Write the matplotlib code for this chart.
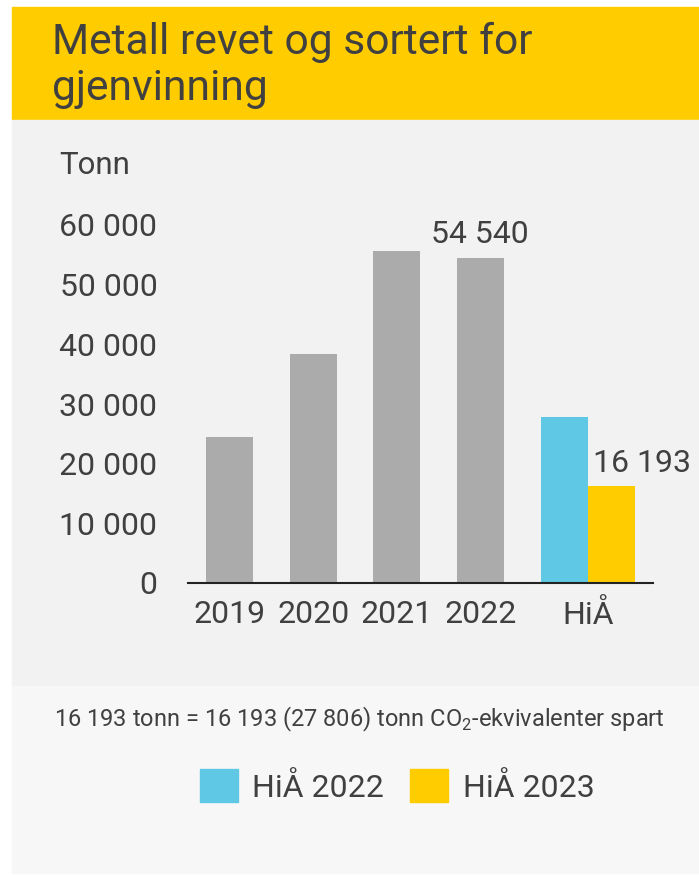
import matplotlib.pyplot as plt
from matplotlib.patches import Rectangle, Patch

plt.rcParams['font.family'] = ['Roboto', 'DejaVu Sans']
plt.rcParams['mathtext.fontset'] = 'custom'
plt.rcParams['mathtext.rm'] = 'Roboto'

# Data
years = ['2019', '2020', '2021', '2022']
tonn = [24500, 38400, 55600, 54540]
hia_label = 'HiÅ'
hia_2022 = 27806
hia_2023 = 16193
yticks = [0, 10000, 20000, 30000, 40000, 50000, 60000]

text_col = '#404040'
grey_bar = '#ababab'
blue = '#5ec8e5'
yellow = '#ffcc00'

W, H = 699, 875
fig = plt.figure(figsize=(W / 100, H / 100), dpi=100)

# Bakgrunnsfelt
fig.patches.append(Rectangle((12 / W, 1 - 120 / H), 1, 113 / H, transform=fig.transFigure,
                             color=yellow, zorder=-10))
fig.patches.append(Rectangle((12 / W, 1 - 686 / H), 1, 566 / H, transform=fig.transFigure,
                             color='#f2f2f2', zorder=-10))
fig.patches.append(Rectangle((12 / W, 1 - 873 / H), 1, 187 / H, transform=fig.transFigure,
                             color='#f7f7f7', zorder=-10))

fig.text(52 / W, 1 - 54 / H, 'Metall revet og sortert for', fontsize=30.7, color=text_col,
         va='baseline', ha='left')
fig.text(52 / W, 1 - 100 / H, 'gjenvinning', fontsize=30.7, color=text_col,
         va='baseline', ha='left')
fig.text(59 / W, 1 - 174 / H, 'Tonn', fontsize=22.5, color=text_col, va='baseline', ha='left')

bottom = 1 - 583 / H
height = 358 / H

# Venstre del: aarene
ax = fig.add_axes([188 / W, bottom, 334 / W, height])
ax.set_facecolor('none')
x = range(len(years))
ax.bar(x, tonn, width=0.557, color=grey_bar)
ax.set_xlim(-0.5, len(years) - 0.5)
ax.set_ylim(0, 60000)
ax.set_xticks(list(x))
ax.set_xticklabels(years)
ax.set_yticks(yticks)
ax.set_yticklabels([f'{v:,}'.replace(',', ' ') for v in yticks])
ax.tick_params(length=0, labelsize=23, colors=text_col)
ax.tick_params(axis='x', pad=12)
ax.tick_params(axis='y', pad=22)
for s in ['top', 'right', 'left']:
    ax.spines[s].set_visible(False)
ax.spines['bottom'].set_color('#222222')
ax.spines['bottom'].set_linewidth(1.5)
ax.annotate('54 540', (3, tonn[3]), xytext=(0, 6), textcoords='offset points',
            ha='center', va='bottom', fontsize=23, color=text_col, annotation_clip=False)

# Hoyre del: HiÅ
ax2 = fig.add_axes([523 / W, bottom, 130 / W, height])
ax2.set_facecolor('none')
w = 0.3615
ax2.bar(-w / 2, hia_2022, width=w, color=blue)
ax2.bar(w / 2, hia_2023, width=w, color=yellow)
ax2.set_xlim(-0.5, 0.5)
ax2.set_ylim(0, 60000)
ax2.set_xticks([0])
ax2.set_xticklabels([hia_label])
ax2.set_yticks([])
ax2.tick_params(length=0, labelsize=23, colors=text_col, pad=12)
for s in ['top', 'right', 'left']:
    ax2.spines[s].set_visible(False)
ax2.spines['bottom'].set_color('#222222')
ax2.spines['bottom'].set_linewidth(1.5)
ax2.annotate('16 193', (w / 2, hia_2023), xytext=(-13, 6), textcoords='offset points',
             ha='left', va='bottom', fontsize=23, color=text_col, annotation_clip=False)

fig.text(359 / W, 1 - 726 / H, '16 193 tonn = 16 193 (27 806) tonn CO$_2$-ekvivalenter spart',
         fontsize=17, color=text_col, ha='center', va='baseline')

handles = [Patch(color=blue, label='HiÅ 2022'), Patch(color=yellow, label='HiÅ 2023')]
fig.legend(handles=handles, loc='center', bbox_to_anchor=(397 / W, 1 - 786 / H), ncol=2,
           frameon=False, fontsize=23, labelcolor=text_col, handlelength=1.2, handleheight=1.2,
           handletextpad=0.45, columnspacing=0.8)

fig.savefig('out.png', dpi=100)
